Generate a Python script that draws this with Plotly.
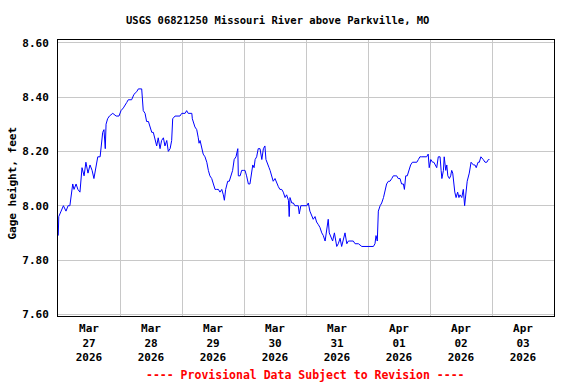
import plotly.graph_objects as go
import pandas as pd

# Hours since 2026-03-27 00:00 (local) and gage height in feet
hours = [0.1, 0.3, 1.2, 2.1, 3.1, 3.9, 4.6, 5.7, 6.2, 7.0, 7.7, 8.5, 9.3, 10.1, 10.8, 11.6,
         12.4, 13.2, 13.9, 14.7, 15.4, 16.3, 16.6, 17.3, 17.8, 18.3, 18.6, 19.2, 19.9, 21.2,
         22.5, 23.6, 24.4, 25.3, 26.6, 27.2, 28.5, 29.4, 30.5, 31.1, 32.4, 32.8, 33.0, 33.7,
         34.3, 35.0, 35.6, 36.3, 36.9, 37.5, 38.2, 38.8, 39.5, 40.1, 40.8, 41.4, 42.1, 42.7,
         43.4, 44.0, 44.4, 45.3, 47.2, 47.9, 49.2, 49.8, 50.4, 51.8, 52.0, 53.0, 53.7, 54.3,
         54.6, 55.0, 55.6, 56.2, 56.9, 57.6, 58.2, 58.8, 59.5, 60.1, 60.8, 61.4, 62.1, 62.7,
         63.4, 64.0, 64.4, 64.9, 65.7, 66.3, 67.0, 67.6, 68.2, 68.9, 69.6, 69.8, 70.5, 71.1,
         71.7, 72.4, 73.0, 73.7, 74.3, 75.0, 75.4, 75.9, 76.3, 76.9, 77.5, 78.2, 78.9, 79.5,
         80.1, 80.5, 81.0, 81.7, 82.1, 82.7, 83.3, 84.0, 84.7, 85.3, 85.9, 86.6, 87.2, 87.9,
         88.5, 89.2, 89.5, 89.8, 90.5, 91.1, 91.7, 93.0, 93.4, 94.0, 96.3, 96.9, 97.5, 98.2,
         98.8, 99.5, 100.1, 100.8, 101.4, 102.1, 102.7, 103.4, 104.0, 104.6, 105.0, 105.7,
         106.3, 107.0, 107.5, 107.9, 108.5, 109.2, 109.8, 110.4, 111.1, 111.8, 112.4, 113.0,
         114.3, 115.0, 116.3, 117.6, 118.8, 120.1, 121.4, 122.1, 122.7, 123.1, 123.6, 124.0,
         124.7, 125.3, 126.0, 126.6, 127.2, 127.9, 128.5, 129.2, 129.8, 130.5, 131.1, 131.7,
         132.4, 133.0, 133.7, 134.1, 134.6, 135.2, 135.9, 136.5, 137.2, 137.8, 138.9, 139.5,
         140.1, 140.8, 142.1, 142.7, 143.3, 143.7, 144.3, 145.0, 145.5, 146.1, 146.6, 147.2,
         147.9, 148.3, 148.6, 149.2, 149.5, 150.1, 150.5, 150.9, 151.5, 152.0, 152.4, 152.8,
         153.2, 153.6, 154.1, 154.7, 155.2, 155.6, 156.3, 156.9, 157.4, 157.9, 158.4, 159.2,
         159.9, 160.8, 161.4, 161.9, 162.6, 163.1, 163.7, 164.6, 165.3, 166.0, 166.6, 167.0]

gage_ft = [7.89, 7.96, 7.98, 8.00, 7.98, 8.00, 8.00, 8.08, 8.06, 8.08, 8.06, 8.05, 8.14, 8.11, 8.16, 8.12,
           8.15, 8.13, 8.10, 8.15, 8.18, 8.18, 8.21, 8.27, 8.28, 8.21, 8.30, 8.32, 8.33, 8.34,
           8.33, 8.33, 8.35, 8.36, 8.38, 8.39, 8.39, 8.41, 8.42, 8.43, 8.43, 8.39, 8.35, 8.34,
           8.31, 8.31, 8.29, 8.27, 8.27, 8.24, 8.22, 8.25, 8.21, 8.24, 8.25, 8.22, 8.24, 8.20,
           8.21, 8.24, 8.32, 8.33, 8.33, 8.34, 8.34, 8.35, 8.34, 8.34, 8.32, 8.29, 8.28, 8.25,
           8.23, 8.24, 8.22, 8.19, 8.18, 8.16, 8.13, 8.11, 8.10, 8.08, 8.06, 8.06, 8.06, 8.05,
           8.06, 8.04, 8.02, 8.06, 8.09, 8.09, 8.11, 8.13, 8.17, 8.18, 8.21, 8.11, 8.11, 8.13,
           8.13, 8.13, 8.11, 8.08, 8.08, 8.12, 8.15, 8.14, 8.17, 8.18, 8.21, 8.21, 8.17, 8.21,
           8.22, 8.17, 8.16, 8.14, 8.13, 8.11, 8.09, 8.10, 8.08, 8.07, 8.06, 8.06, 8.05, 8.03,
           8.04, 8.02, 7.96, 8.03, 8.01, 8.01, 8.00, 8.00, 7.97, 8.00, 8.00, 8.01, 7.98, 7.96,
           7.95, 7.96, 7.94, 7.93, 7.92, 7.90, 7.89, 7.87, 7.92, 7.95, 7.90, 7.88,
           7.87, 7.90, 7.87, 7.85, 7.86, 7.88, 7.85, 7.87, 7.90, 7.86, 7.87, 7.87,
           7.87, 7.86, 7.86, 7.85, 7.85, 7.85, 7.85, 7.85, 7.86, 7.89, 7.87, 7.98,
           8.00, 8.01, 8.03, 8.06, 8.08, 8.09, 8.09, 8.10, 8.11, 8.11, 8.11, 8.10,
           8.10, 8.08, 8.08, 8.06, 8.11, 8.11, 8.13, 8.15, 8.16, 8.16, 8.16, 8.17,
           8.18, 8.18, 8.18, 8.18, 8.19, 8.14, 8.17, 8.16, 8.16, 8.15, 8.14, 8.18,
           8.18, 8.13, 8.10, 8.13, 8.18, 8.13, 8.15, 8.11, 8.10, 8.11, 8.13, 8.12,
           8.07, 8.05, 8.03, 8.05, 8.03, 8.04, 8.03, 8.06, 8.00, 8.06, 8.09, 8.12,
           8.16, 8.15, 8.15, 8.14, 8.16, 8.16, 8.18, 8.17, 8.16, 8.16, 8.17, 8.17]

day_labels = ["Mar<br>27<br>2026", "Mar<br>28<br>2026", "Mar<br>29<br>2026", "Mar<br>30<br>2026",
              "Mar<br>31<br>2026", "Apr<br>01<br>2026", "Apr<br>02<br>2026", "Apr<br>03<br>2026"]
day_noons = ["2026-03-27 12:00", "2026-03-28 12:00", "2026-03-29 12:00", "2026-03-30 12:00",
             "2026-03-31 12:00", "2026-04-01 12:00", "2026-04-02 12:00", "2026-04-03 12:00"]
y_ticks = [7.6, 7.8, 8.0, 8.2, 8.4, 8.6]

title_text = "USGS 06821250 Missouri River above Parkville, MO"
y_title = "Gage height, feet"
footer = "---- Provisional Data Subject to Revision ----"

times = pd.Timestamp("2026-03-27 00:00") + pd.to_timedelta(hours, unit="h")

MONO = "DejaVu Sans Mono"

fig = go.Figure()
fig.add_trace(go.Scatter(x=times, y=gage_ft, mode="lines",
                         line=dict(color="#0000ff", width=1), showlegend=False))

fig.update_layout(
    width=576, height=384,
    margin=dict(l=58, r=22, t=40, b=68),
    paper_bgcolor="white", plot_bgcolor="white",
    font=dict(family=MONO, size=11, color="black", weight="bold"),
    showlegend=False,
)

fig.update_xaxes(
    type="date",
    range=["2026-03-27 00:00", "2026-04-04 00:00"],
    tickmode="array", tickvals=day_noons, ticktext=day_labels,
    showgrid=False, ticks="", ticklen=0, ticklabelstandoff=2,
    showline=True, linecolor="black", linewidth=1, mirror=True,
    tickfont=dict(family=MONO, size=11, color="black", weight="bold"),
    minor=dict(dtick=86400000, tick0="2026-03-27", showgrid=True,
               gridcolor="#c8c8c8", gridwidth=1, ticks="", ticklen=0),
    zeroline=False,
)

fig.update_yaxes(
    range=[7.594, 8.61],
    tickmode="array", tickvals=y_ticks, ticktext=[f"{v:.2f}" for v in y_ticks],
    showgrid=True, gridcolor="#c8c8c8", gridwidth=1,
    ticks="", ticklabelstandoff=6,
    showline=True, linecolor="black", linewidth=1, mirror=True,
    tickfont=dict(family=MONO, size=11, color="black", weight="bold"),
    zeroline=False,
)

fig.add_annotation(text=title_text, xref="paper", yref="paper",
                   x=0.4425, y=1.072, showarrow=False, xanchor="center", yanchor="middle",
                   font=dict(family=MONO, size=10.5, color="black", weight="bold"))
fig.add_annotation(text=y_title, xref="paper", yref="paper",
                   x=-0.0927, y=0.48, showarrow=False, textangle=-90,
                   xanchor="center", yanchor="middle",
                   font=dict(family=MONO, size=11, color="black", weight="bold"))
fig.add_annotation(text=footer, xref="paper", yref="paper",
                   x=0.498, y=-0.214, showarrow=False, xanchor="center", yanchor="middle",
                   font=dict(family=MONO, size=11.5, color="red", weight="bold"))

fig.write_html("out.html", config={"displayModeBar": False},
               post_script="document.body.style.margin='0';document.body.style.overflow='hidden';")
